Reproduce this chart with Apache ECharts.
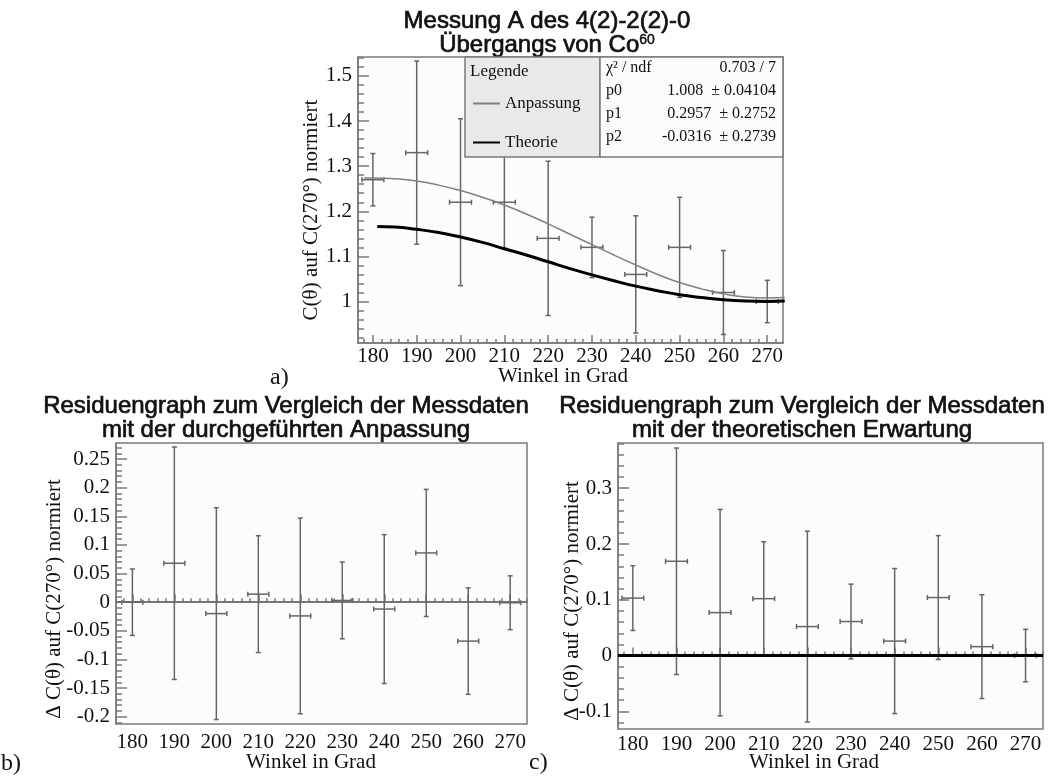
<!DOCTYPE html>
<html>
<head>
<meta charset="utf-8">
<title>Messung A des 4(2)-2(2)-0 Übergangs von Co60</title>
<script src="https://cdn.jsdelivr.net/npm/echarts@6/dist/echarts.min.js"></script>
<style>
  html, body { margin: 0; padding: 0; background: #fff; }
  #chart { width: 1055px; height: 778px; }
</style>
</head>
<body>
<div id="chart"></div>
<script>
// Winkel der Messpunkte in Grad
const angles = [180, 190, 200, 210, 220, 230, 240, 250, 260, 270];
// halbe Breite der Winkel-Fehlerbalken
const angleErr = [2.5, 2.5, 2.5, 2.5, 2.5, 2.5, 2.5, 2.5, 2.5, 2.5];
// Messung A, auf C(270°) normiert
const measured = [1.27, 1.33, 1.22, 1.22, 1.14, 1.12, 1.06, 1.12, 1.02, 1.00];
const measuredErr = [0.058, 0.203, 0.185, 0.102, 0.171, 0.067, 0.130, 0.111, 0.093, 0.047];
// Residuen: Messung - Anpassung, Messung - Theorie
const residFit = [0.000, 0.068, -0.020, 0.014, -0.024, 0.003, -0.012, 0.086, -0.068, -0.001];
const residTheory = [0.103, 0.169, 0.077, 0.102, 0.052, 0.061, 0.026, 0.104, 0.016, 0.000];

// Kurven
const fitAngles = [178, 180, 185, 190, 195, 200, 205, 210, 215, 220, 225, 230, 235, 240, 245, 250, 255, 260, 265, 270, 274];
const fitValues = [1.274, 1.274, 1.272, 1.267, 1.258, 1.246, 1.231, 1.214, 1.194, 1.172, 1.149, 1.126, 1.103, 1.081, 1.060, 1.042, 1.028, 1.017, 1.010, 1.008, 1.009];
const theoryAngles = [181, 185, 190, 195, 200, 205, 210, 215, 220, 225, 230, 235, 240, 245, 250, 255, 260, 265, 270, 274];
const theoryValues = [1.166, 1.165, 1.160, 1.153, 1.143, 1.131, 1.117, 1.103, 1.088, 1.073, 1.059, 1.046, 1.034, 1.024, 1.015, 1.009, 1.004, 1.001, 1.000, 1.001];

// Achsenbeschriftung
const angleTicks = [180, 190, 200, 210, 220, 230, 240, 250, 260, 270];
const ticksA = [1, 1.1, 1.2, 1.3, 1.4, 1.5];
const ticksB = [-0.2, -0.15, -0.1, -0.05, 0, 0.05, 0.1, 0.15, 0.2, 0.25];
const ticksC = [-0.1, 0, 0.1, 0.2, 0.3];

// Fit-Statistik
const statNames = ['χ² / ndf', 'p0', 'p1', 'p2'];
const statValues = ['0.703 / 7', '1.008  ± 0.04104', '0.2957  ± 0.2752', '-0.0316  ± 0.2739'];

const serif = 'Liberation Serif';
const sans = 'Liberation Sans';
const frameColor = '#7a7a7a';
const barColor = '#666';

function minorTicks(from, to, step, majorEvery) {
  const out = [];
  const n0 = Math.ceil(from / step - 1e-6), n1 = Math.floor(to / step + 1e-6);
  for (let k = n0; k <= n1; k++) {
    if (k % majorEvery !== 0) out.push(+(k * step).toFixed(4));
  }
  return out;
}

function fmt(v) { return String(+(+v).toFixed(3)); }

function xAxes(grid, min, max, margin) {
  const ls = { color: frameColor, width: 1.5 };
  return [
    { type: 'value', gridIndex: grid, position: 'bottom', min, max,
      axisLine: { show: true, lineStyle: ls },
      axisTick: { inside: true, length: 8, customValues: angleTicks, lineStyle: ls },
      axisLabel: { customValues: angleTicks, margin, fontFamily: serif, fontSize: 21, color: '#111', formatter: fmt },
      splitLine: { show: false } },
    { type: 'value', gridIndex: grid, position: 'bottom', min, max,
      axisLine: { show: false },
      axisTick: { inside: true, length: 4, customValues: minorTicks(min, max, 2, 5), lineStyle: ls },
      axisLabel: { show: false },
      splitLine: { show: false } }
  ];
}

function yAxes(grid, min, max, ticks, step) {
  const ls = { color: frameColor, width: 1.5 };
  return [
    { type: 'value', gridIndex: grid, position: 'left', min, max,
      axisLine: { show: true, lineStyle: ls },
      axisTick: { inside: true, length: 11, customValues: ticks, lineStyle: ls },
      axisLabel: { customValues: ticks, margin: 6, fontFamily: serif, fontSize: 21, color: '#111', formatter: fmt },
      splitLine: { show: false } },
    { type: 'value', gridIndex: grid, position: 'left', min, max,
      axisLine: { show: false },
      axisTick: { inside: true, length: 6, customValues: minorTicks(min, max, step, 5), lineStyle: ls },
      axisLabel: { show: false },
      splitLine: { show: false } }
  ];
}

function errorBars(params, api) {
  const x = api.value(0), y = api.value(1), ey = api.value(2), ex = api.value(3);
  const top = api.coord([x, y + ey]), bot = api.coord([x, y - ey]);
  const lft = api.coord([x - ex, y]), rgt = api.coord([x + ex, y]);
  const style = { stroke: barColor, lineWidth: 1.5, fill: null };
  const c = 2.5;
  const seg = (x1, y1, x2, y2) => ({ type: 'line', shape: { x1, y1, x2, y2 }, style });
  return {
    type: 'group',
    children: [
      seg(top[0], top[1], bot[0], bot[1]),
      seg(lft[0], lft[1], rgt[0], rgt[1]),
      seg(top[0] - c, top[1], top[0] + c, top[1]),
      seg(bot[0] - c, bot[1], bot[0] + c, bot[1]),
      seg(lft[0], lft[1] - c, lft[0], lft[1] + c),
      seg(rgt[0], rgt[1] - c, rgt[0], rgt[1] + c)
    ]
  };
}

function barData(values) {
  return angles.map((a, i) => [a, values[i], measuredErr[i], angleErr[i]]);
}

function curve(xs, ys) {
  return xs.map((x, i) => [x, ys[i]]);
}

function zeroLine(color, width) {
  return {
    silent: true, symbol: 'none', label: { show: false },
    lineStyle: { color, width, type: 'solid' },
    data: [{ yAxis: 0 }]
  };
}

function axisText(text, x, y, rotate) {
  return {
    type: 'text', x, y, rotation: rotate ? Math.PI / 2 : 0, z: 11,
    style: { text, fontFamily: serif, fontSize: 21, fill: '#111', align: 'center', verticalAlign: 'middle' }
  };
}

const chart = echarts.init(document.getElementById('chart'));

const titleStyle = { fontFamily: sans, fontSize: 24, fontWeight: 'normal', color: '#111',
  textBorderColor: '#111', textBorderWidth: 0.7 };

const graphics = [
  // Achsentitel
  axisText('C(θ) auf C(270°) normiert', 311, 210, true),
  axisText('Winkel in Grad', 563, 376, false),
  axisText('Δ C(θ) auf C(270°) normiert', 54, 599, true),
  axisText('Winkel in Grad', 311, 762, false),
  axisText('Δ C(θ) auf C(270°) normiert', 572, 601, true),
  axisText('Winkel in Grad', 814, 762, false),
  // Teilbild-Bezeichnungen
  { type: 'text', x: 270, y: 378, z: 11, style: { text: 'a)', fontFamily: serif, fontSize: 24, fill: '#111', verticalAlign: 'middle' } },
  { type: 'text', x: 1, y: 764, z: 11, style: { text: 'b)', fontFamily: serif, fontSize: 24, fill: '#111', verticalAlign: 'middle' } },
  { type: 'text', x: 529, y: 763, z: 11, style: { text: 'c)', fontFamily: serif, fontSize: 24, fill: '#111', verticalAlign: 'middle' } },
  // Legendenkasten
  { type: 'rect', z: 10, shape: { x: 465, y: 57, width: 135, height: 100 },
    style: { fill: '#e9e9e9', stroke: frameColor, lineWidth: 1.5 } },
  { type: 'text', x: 470, y: 72, z: 11,
    style: { text: 'Legende', fontFamily: serif, fontSize: 17, fill: '#111', verticalAlign: 'middle' } },
  // Statistikkasten
  { type: 'rect', z: 10, shape: { x: 600, y: 57, width: 183, height: 100 },
    style: { fill: '#fbfbfb', stroke: frameColor, lineWidth: 1.5 } }
];
const statRows = [68, 91, 114, 137];
statNames.forEach((n, i) => {
  graphics.push({ type: 'text', x: 606, y: statRows[i], z: 11,
    style: { text: n, fontFamily: serif, fontSize: 16, fill: '#111', verticalAlign: 'middle' } });
  graphics.push({ type: 'text', x: 776, y: statRows[i], z: 11,
    style: { text: statValues[i], fontFamily: serif, fontSize: 16, fill: '#111', align: 'right', verticalAlign: 'middle' } });
});

const option = {
  animation: false,
  backgroundColor: '#fff',
  title: [
    { text: 'Messung A des 4(2)-2(2)-0\nÜbergangs von Co{sup|60}', left: 542, top: 4, textAlign: 'center',
      textStyle: Object.assign({ lineHeight: 24,
        rich: { sup: { fontFamily: sans, fontSize: 14, color: '#111', verticalAlign: 'top', textBorderColor: '#111', textBorderWidth: 0.5 } } }, titleStyle) },
    { text: 'Residuengraph zum Vergleich der Messdaten\nmit der durchgeführten Anpassung', left: 281, top: 389, textAlign: 'center',
      textStyle: Object.assign({ lineHeight: 24.5 }, titleStyle) },
    { text: 'Residuengraph zum Vergleich der Messdaten\nmit der theoretischen Erwartung', left: 797, top: 389, textAlign: 'center',
      textStyle: Object.assign({ lineHeight: 24.5 }, titleStyle) }
  ],
  legend: {
    data: ['Anpassung', 'Theorie'], left: 467, top: 90, orient: 'vertical', z: 20,
    itemWidth: 27, itemHeight: 12, itemGap: 22,
    itemStyle: { opacity: 0 },
    textStyle: { fontFamily: serif, fontSize: 17, color: '#111' }
  },
  grid: [
    { left: 358, top: 57, width: 425, height: 286, show: true, borderColor: frameColor, borderWidth: 1.5, backgroundColor: '#fcfcfc' },
    { left: 116, top: 443, width: 411, height: 281, show: true, borderColor: frameColor, borderWidth: 1.5, backgroundColor: '#fcfcfc' },
    { left: 618, top: 443, width: 425, height: 286, show: true, borderColor: frameColor, borderWidth: 1.5, backgroundColor: '#fcfcfc' }
  ],
  xAxis: [].concat(
    xAxes(0, 176.6, 273.6, 3),
    xAxes(1, 176.1, 274.0, 8),
    xAxes(2, 176.6, 274.0, 5)
  ),
  yAxis: [].concat(
    yAxes(0, 0.908, 1.542, ticksA, 0.02),
    yAxes(1, -0.2128, 0.278, ticksB, 0.01),
    yAxes(2, -0.1316, 0.381, ticksC, 0.02)
  ),
  graphic: graphics,
  series: [
    { type: 'custom', name: 'Messung A', xAxisIndex: 0, yAxisIndex: 0, renderItem: errorBars,
      encode: { x: 0, y: 1 }, data: barData(measured), z: 3 },
    { type: 'line', name: 'Anpassung', xAxisIndex: 0, yAxisIndex: 0, data: curve(fitAngles, fitValues),
      smooth: true, symbol: 'none', color: '#808080', lineStyle: { color: '#808080', width: 1.5 }, z: 4 },
    { type: 'line', name: 'Theorie', xAxisIndex: 0, yAxisIndex: 0, data: curve(theoryAngles, theoryValues),
      smooth: true, symbol: 'none', color: '#000', lineStyle: { color: '#000', width: 3 }, z: 4 },
    { type: 'custom', name: 'Residuen Anpassung', xAxisIndex: 2, yAxisIndex: 2, renderItem: errorBars,
      encode: { x: 0, y: 1 }, data: barData(residFit), markLine: zeroLine('#6a6a6a', 1.5), z: 3 },
    { type: 'custom', name: 'Residuen Theorie', xAxisIndex: 4, yAxisIndex: 4, renderItem: errorBars,
      encode: { x: 0, y: 1 }, data: barData(residTheory), markLine: zeroLine('#000', 3), z: 3 }
  ]
};

chart.setOption(option);
</script>
</body>
</html>
